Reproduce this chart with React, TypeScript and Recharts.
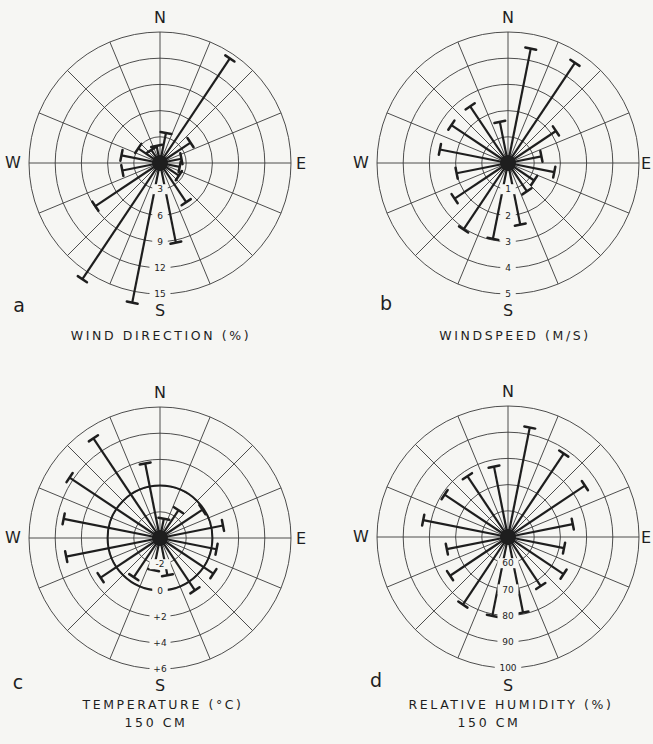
import React from 'react';
import { RadarChart, Radar, PolarGrid, PolarAngleAxis, PolarRadiusAxis } from 'recharts';

// 16 sectors, centred between compass points, clockwise from N
const sectors = [
  'N-NNE', 'NNE-NE', 'NE-ENE', 'ENE-E', 'E-ESE', 'ESE-SE', 'SE-SSE', 'SSE-S',
  'S-SSW', 'SSW-SW', 'SW-WSW', 'WSW-W', 'W-WNW', 'WNW-NW', 'NW-NNW', 'NNW-N',
];

const windDirection = [3.5, 14.4, 4.2, 2.5, 2.3, 2.6, 5.4, 9.3, 16.3, 16.0, 8.9, 4.4, 4.5, 3.0, 1.8, 2.0];
const windSpeed = [4.45, 4.6, 2.2, 1.3, 1.8, 1.2, 1.3, 2.4, 2.95, 3.05, 2.45, 2.0, 2.65, 2.6, 2.6, 1.6];
const temperature = [-2.5, -1.45, -0.1, 0.9, 0.4, 0.9, 0.8, -1.1, -1.5, -0.4, 1.45, 3.3, 3.5, 4.3, 5.15, 1.8];
const humidity = [92.6, 88.3, 85.3, 75.2, 71.8, 75.5, 72.5, 79.4, 80.7, 81.0, 76.6, 73.8, 83.0, 79.1, 77.9, 77.4];

const windDirTicks = [3, 6, 9, 12, 15];
const windSpeedTicks = [1, 2, 3, 4, 5];
const tempTicks = [-2, 0, 2, 4, 6];
const humidityTicks = [60, 70, 80, 90, 100];

// grid spokes every 22.5 deg, the S spoke is left out (ring labels sit there)
const spokeBearings = [0, 22.5, 45, 67.5, 90, 112.5, 135, 157.5, 202.5, 225, 247.5, 270, 292.5, 315, 337.5];

const BG = '#f6f6f3';
const INK = '#1e1e1e';
const GRID = '#3a3a3a';
const FONT = '"DejaVu Sans", sans-serif';
const R = 131;

const toRows = (values: number[]) => sectors.map((s, i) => ({ sector: s, value: values[i] }));

const whiskerShape = (props: any) => {
  const pts = props.points || [];
  if (!pts.length) return <g />;
  const cx = pts[0].cx;
  const cy = pts[0].cy;
  return (
    <g>
      {pts.map((p: any, i: number) => {
        const a = (p.angle * Math.PI) / 180;
        const px = Math.sin(a);
        const py = Math.cos(a);
        const h = 5.5;
        return (
          <g key={i}>
            <line x1={cx} y1={cy} x2={p.x} y2={p.y} stroke={INK} strokeWidth={2.2} />
            <line x1={p.x - px * h} y1={p.y - py * h} x2={p.x + px * h} y2={p.y + py * h} stroke={INK} strokeWidth={2.5} strokeLinecap="round" />
          </g>
        );
      })}
      <circle cx={cx} cy={cy} r={8} fill={INK} />
    </g>
  );
};

const ringTick = (fmt: (v: number) => string) => (props: any) => {
  const { x, y, payload } = props;
  const label = fmt(payload.value);
  const w = label.length * 5.5 + 10;
  return (
    <g>
      <rect x={x - w / 2} y={y - 5} width={w} height={10} fill={BG} />
      <text x={x} y={y} dy="0.35em" textAnchor="middle" fontSize={9} fontFamily={FONT} fill={INK}>
        {label}
      </text>
    </g>
  );
};

interface RoseProps {
  values: number[];
  domain: [number, number];
  ticks: number[];
  fmt: (v: number) => string;
  cx: number;
  cy: number;
  boldAt?: number;
}

function Rose({ values, domain, ticks, fmt, cx, cy, boldAt }: RoseProps) {
  const data = toRows(values);
  return (
    <RadarChart
      width={330}
      height={330}
      cx={cx}
      cy={cy}
      outerRadius={R}
      startAngle={78.75}
      endAngle={-281.25}
      data={data}
      margin={{ top: 0, right: 0, bottom: 0, left: 0 }}
    >
      <PolarGrid
        gridType="circle"
        stroke={GRID}
        strokeWidth={0.9}
        polarAngles={spokeBearings.map((b) => 90 - b)}
      />
      {boldAt !== undefined && (
        <PolarGrid
          gridType="circle"
          radialLines={false}
          stroke={INK}
          strokeWidth={2}
          polarRadius={[(R * (boldAt - domain[0])) / (domain[1] - domain[0])]}
        />
      )}
      <PolarAngleAxis dataKey="sector" tick={false} axisLine={false} />
      <PolarRadiusAxis
        angle={-90}
        domain={domain}
        ticks={ticks as any}
        allowDataOverflow
        axisLine={false}
        tickLine={false}
        tick={ringTick(fmt)}
      />
      <Radar dataKey="value" isAnimationActive={false} shape={whiskerShape} dot={false} />
    </RadarChart>
  );
}

const Label = ({ x, y, size = 16, children, spacing = 0 }: any) => (
  <div
    style={{
      position: 'absolute',
      left: x,
      top: y,
      transform: 'translate(-50%, -50%)',
      fontSize: size,
      letterSpacing: spacing,
      whiteSpace: 'nowrap',
      color: INK,
      lineHeight: 1,
    }}
  >
    {children}
  </div>
);

export default function App() {
  const plain = (v: number) => String(v);
  const signed = (v: number) => (v > 0 ? `+${v}` : String(v));
  return (
    <div
      style={{
        position: 'absolute',
        left: 0,
        top: 0,
        width: 653,
        height: 744,
        overflow: 'hidden',
        background: BG,
        fontFamily: FONT,
      }}
    >
      <div style={{ position: 'absolute', left: 0, top: 0 }}>
        <Rose values={windDirection} domain={[0, 15]} ticks={windDirTicks} fmt={plain} cx={160} cy={163} />
      </div>
      <div style={{ position: 'absolute', left: 323, top: 0 }}>
        <Rose values={windSpeed} domain={[0, 5]} ticks={windSpeedTicks} fmt={plain} cx={185} cy={163} />
      </div>
      <div style={{ position: 'absolute', left: 0, top: 370 }}>
        <Rose values={temperature} domain={[-4, 6]} ticks={tempTicks} fmt={signed} cx={160} cy={168} boldAt={0} />
      </div>
      <div style={{ position: 'absolute', left: 323, top: 370 }}>
        <Rose values={humidity} domain={[50, 100]} ticks={humidityTicks} fmt={plain} cx={185} cy={167} />
      </div>

      {/* panel a */}
      <Label x={160} y={18}>N</Label>
      <Label x={160} y={311}>S</Label>
      <Label x={13} y={163}>W</Label>
      <Label x={301} y={164}>E</Label>
      <Label x={19} y={305} size={19}>a</Label>
      <Label x={161} y={336} size={12.5} spacing={2.6}>WIND DIRECTION (%)</Label>

      {/* panel b */}
      <Label x={508} y={18}>N</Label>
      <Label x={508} y={311}>S</Label>
      <Label x={361} y={163}>W</Label>
      <Label x={646} y={164}>E</Label>
      <Label x={386} y={303} size={19}>b</Label>
      <Label x={515} y={336} size={12.5} spacing={2.6}>WINDSPEED (M/S)</Label>

      {/* panel c */}
      <Label x={160} y={393}>N</Label>
      <Label x={160} y={686}>S</Label>
      <Label x={13} y={538}>W</Label>
      <Label x={301} y={539}>E</Label>
      <Label x={18} y={682} size={19}>c</Label>
      <Label x={163} y={705} size={12.5} spacing={2.6}>TEMPERATURE (°C)</Label>
      <Label x={156} y={723} size={12.5} spacing={2.6}>150 CM</Label>

      {/* panel d */}
      <Label x={508} y={392}>N</Label>
      <Label x={508} y={686}>S</Label>
      <Label x={361} y={537}>W</Label>
      <Label x={646} y={538}>E</Label>
      <Label x={376} y={680} size={19}>d</Label>
      <Label x={511} y={705} size={12.5} spacing={2.6}>RELATIVE HUMIDITY (%)</Label>
      <Label x={489} y={723} size={12.5} spacing={2.6}>150 CM</Label>
    </div>
  );
}
